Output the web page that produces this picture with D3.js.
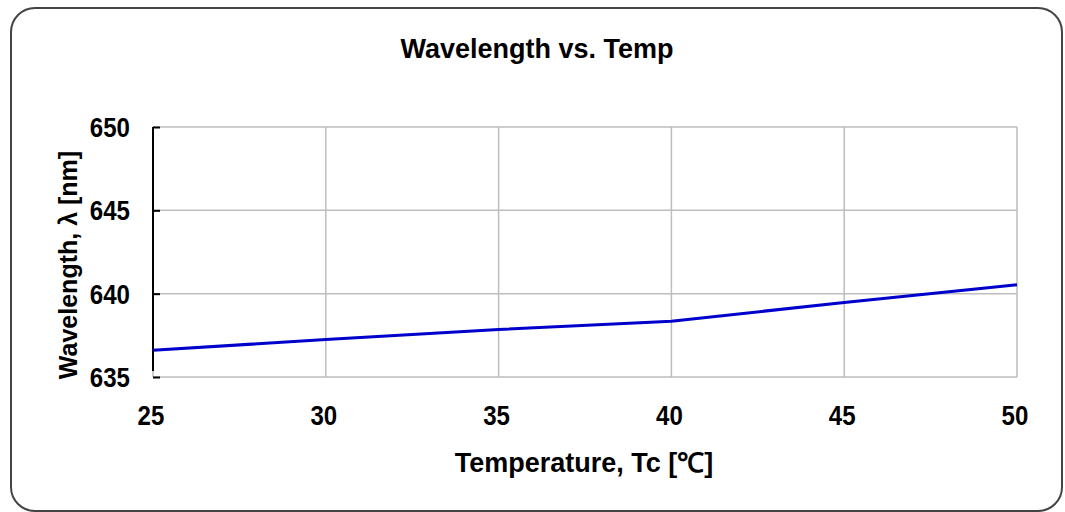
<!DOCTYPE html>
<html lang="en">
<head>
<meta charset="utf-8">
<title>Wavelength vs. Temp</title>
<script src="https://d3js.org/d3.v7.js"></script>
<style>
  body { margin: 0; background: #fff; }
  text { font-family: "Liberation Sans", Arial, sans-serif; font-weight: bold; fill: #000; }
</style>
</head>
<body>
<div id="chart"></div>
<script>
// data
const temps = [25, 30, 35, 40, 45, 50];
const wavelengths = [636.6, 637.25, 637.85, 638.35, 639.47, 640.54];
const xTicks = [25, 30, 35, 40, 45, 50];
const yTicks = [635, 640, 645, 650];

const W = 1065, H = 512;
const plot = { left: 153, top: 127, right: 1017, bottom: 377 };

const svg = d3.select("#chart").append("svg")
  .attr("width", W)
  .attr("height", H);

// outer rounded frame
svg.append("rect")
  .attr("x", 11).attr("y", 8)
  .attr("width", 1051).attr("height", 503)
  .attr("rx", 24).attr("ry", 24)
  .attr("fill", "#fff")
  .attr("stroke", "#444")
  .attr("stroke-width", 2);

const x = d3.scaleLinear().domain([25, 50]).range([plot.left, plot.right]);
const y = d3.scaleLinear().domain([635, 650]).range([plot.bottom, plot.top]);

// gridlines
svg.append("g")
  .selectAll("line.vg")
  .data(xTicks)
  .join("line")
  .attr("x1", d => x(d)).attr("x2", d => x(d))
  .attr("y1", plot.top).attr("y2", plot.bottom)
  .attr("stroke", "#bdbdbd").attr("stroke-width", 1.5);

svg.append("g")
  .selectAll("line.hg")
  .data(yTicks)
  .join("line")
  .attr("x1", plot.left).attr("x2", plot.right)
  .attr("y1", d => y(d)).attr("y2", d => y(d))
  .attr("stroke", "#bdbdbd").attr("stroke-width", 1.5);

// left axis: black line with inward ticks
const yAxis = svg.append("g")
  .attr("transform", `translate(${plot.left},0)`)
  .call(d3.axisRight(y).tickValues(yTicks).tickSize(7).tickFormat(""));
yAxis.select(".domain").attr("stroke", "#000").attr("stroke-width", 2)
  .attr("d", `M0,${plot.top}V${plot.bottom - 6}`);
yAxis.selectAll(".tick line").attr("stroke", "#000").attr("stroke-width", 2);

// y tick labels (narrow, tall digits)
svg.append("g")
  .selectAll("text")
  .data(yTicks)
  .join("text")
  .attr("transform", d => `translate(130,${y(d)}) scale(0.86,1)`)
  .attr("dy", "0.36em")
  .attr("text-anchor", "end")
  .style("font-size", "28px")
  .text(d => d);

// x tick labels
svg.append("g")
  .selectAll("text")
  .data(xTicks)
  .join("text")
  .attr("transform", d => `translate(${x(d) - 2},425) scale(0.86,1)`)
  .attr("text-anchor", "middle")
  .style("font-size", "28px")
  .text(d => d);

// data line
svg.append("path")
  .datum(temps.map((t, i) => [t, wavelengths[i]]))
  .attr("fill", "none")
  .attr("stroke", "#0000cc")
  .attr("stroke-width", 3)
  .attr("d", d3.line().x(d => x(d[0])).y(d => y(d[1])));

// title and axis labels
svg.append("text")
  .attr("x", 537).attr("y", 58)
  .attr("text-anchor", "middle")
  .style("font-size", "27px")
  .text("Wavelength vs. Temp");

svg.append("text")
  .attr("x", 584).attr("y", 472)
  .attr("text-anchor", "middle")
  .style("font-size", "27px")
  .text("Temperature, Tc [℃]");

svg.append("text")
  .attr("transform", "translate(77,265) rotate(-90)")
  .attr("text-anchor", "middle")
  .style("font-size", "25px")
  .text("Wavelength, λ [nm]");
</script>
</body>
</html>
